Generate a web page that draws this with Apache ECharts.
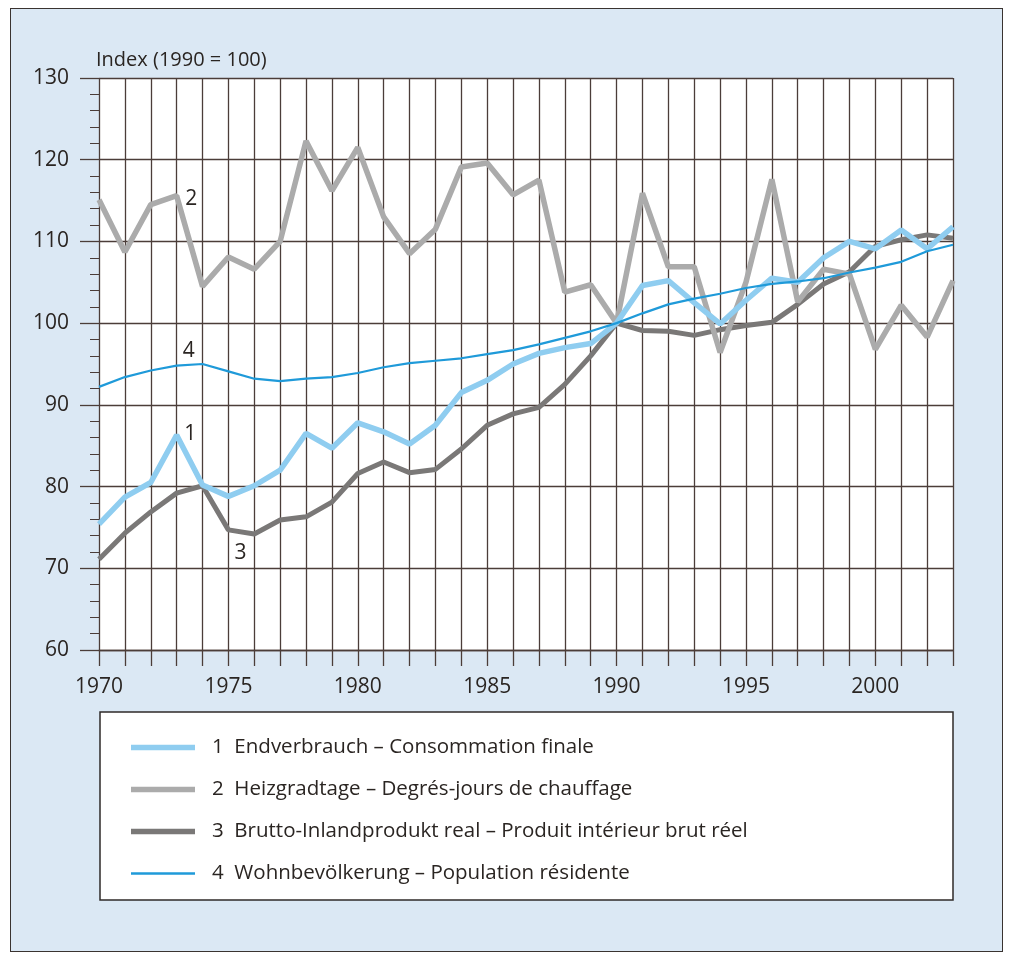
<!DOCTYPE html>
<html>
<head>
<meta charset="utf-8">
<script src="https://cdn.jsdelivr.net/npm/echarts@6/dist/echarts.min.js"></script>
<style>
  html, body { margin: 0; padding: 0; background: #ffffff; }
  #wrap { position: relative; width: 1013px; height: 956px; overflow: hidden; background: #ffffff; }
  #panel { position: absolute; left: 10px; top: 8px; width: 993px; height: 944px; background: #dbe8f4; border: 1.5px solid #3a3330; box-sizing: border-box; }
  #chart { position: absolute; left: 0; top: 0; width: 1013px; height: 956px; }
</style>
</head>
<body>
<div id="wrap">
  <div id="panel"></div>
  <div id="chart"></div>
</div>
<script>
// ---- data ----
const years = ['1970','1971','1972','1973','1974','1975','1976','1977','1978','1979',
  '1980','1981','1982','1983','1984','1985','1986','1987','1988','1989',
  '1990','1991','1992','1993','1994','1995','1996','1997','1998','1999',
  '2000','2001','2002','2003'];

const seriesNames = [
  '1  Endverbrauch – Consommation finale',
  '2  Heizgradtage – Degrés-jours de chauffage',
  '3  Brutto-Inlandprodukt real – Produit intérieur brut réel',
  '4  Wohnbevölkerung – Population résidente'
];

const endverbrauch = [75.4, 78.7, 80.5, 86.3, 80.2, 78.8, 80.1, 82.0, 86.5, 84.7,
  87.8, 86.7, 85.2, 87.5, 91.5, 93.0, 95.0, 96.3, 97.0, 97.5,
  100.0, 104.6, 105.2, 102.5, 99.9, 102.8, 105.5, 105.0, 108.0, 110.0,
  109.1, 111.4, 109.1, 111.8];

const heizgradtage = [115.1, 108.7, 114.5, 115.6, 104.5, 108.1, 106.6, 110.0, 122.3, 116.2,
  121.5, 113.0, 108.5, 111.5, 119.1, 119.6, 115.7, 117.5, 103.8, 104.7,
  100.0, 115.9, 106.9, 106.9, 96.4, 105.0, 117.6, 102.6, 106.6, 106.0,
  96.8, 102.2, 98.3, 105.2];

const bip = [71.1, 74.3, 76.9, 79.2, 80.1, 74.7, 74.2, 75.9, 76.3, 78.1,
  81.6, 83.0, 81.7, 82.1, 84.6, 87.5, 88.9, 89.7, 92.5, 96.0,
  100.0, 99.1, 99.0, 98.5, 99.2, 99.7, 100.1, 102.3, 104.8, 106.3,
  109.4, 110.2, 110.8, 110.4];

const bevoelkerung = [92.2, 93.4, 94.2, 94.8, 95.0, 94.1, 93.2, 92.9, 93.2, 93.4,
  93.9, 94.6, 95.1, 95.4, 95.7, 96.2, 96.7, 97.4, 98.2, 99.0,
  100.0, 101.2, 102.3, 103.0, 103.6, 104.3, 104.8, 105.1, 105.5, 106.2,
  106.8, 107.5, 108.8, 109.6];

const yTickLabels = ['60','70','80','90','100','110','120','130'];
const xTickLabels = ['1970','1975','1980','1985','1990','1995','2000'];

// series tag labels: [label, year index]
const tags = { '1': 3, '2': 3, '3': 5, '4': 3 };

// ---- styles ----
const TXT = '#2a2522';
const GRID = '#4b3d39';
const FONT = '"Open Sans", "Noto Sans", sans-serif';
const THICK_ICON = 'path://M0,0 L64,0 L64,5.5 L0,5.5 Z';
const THIN_ICON = 'path://M0,0 L64,0 L64,2.6 L0,2.6 Z';

function tag(arr, key, pos, offset) {
  const i = tags[key];
  return {
    symbol: 'none',
    silent: true,
    data: [{
      coord: [years[i], arr[i]],
      symbol: 'circle', symbolSize: 1,
      itemStyle: { color: 'transparent' },
      label: { show: true, formatter: key, position: pos, offset: offset,
               color: TXT, fontSize: 21, fontFamily: FONT }
    }]
  };
}

const chart = echarts.init(document.getElementById('chart'), null, { renderer: 'canvas' });

const option = {
  backgroundColor: 'transparent',
  animation: false,
  title: {
    text: 'Index (1990 = 100)',
    left: 91, top: 45,
    textStyle: { color: TXT, fontSize: 20, fontWeight: 'normal', fontFamily: FONT }
  },
  graphic: [{
    type: 'rect', z: 0,
    shape: { x: 100, y: 712, width: 853, height: 188 },
    style: { fill: '#ffffff', stroke: '#2f2a28', lineWidth: 1.5 }
  }],
  legend: {
    orient: 'vertical',
    left: 126, top: 732,
    itemWidth: 64, itemHeight: 20, itemGap: 21,
    symbolKeepAspect: true,
    data: [
      { name: seriesNames[0], icon: THICK_ICON },
      { name: seriesNames[1], icon: THICK_ICON },
      { name: seriesNames[2], icon: THICK_ICON },
      { name: seriesNames[3], icon: THIN_ICON }
    ],
    textStyle: { color: TXT, fontSize: 20.5, fontFamily: FONT, padding: [0, 0, 0, 12] },
    selectedMode: false,
    z: 5
  },
  grid: {
    left: 99, top: 78, right: 60, bottom: 306,
    show: true, backgroundColor: '#ffffff', borderWidth: 0
  },
  xAxis: {
    type: 'category',
    data: years,
    boundaryGap: false,
    axisLine: { show: true, lineStyle: { color: GRID, width: 1.3 } },
    axisTick: { show: true, length: 16, interval: 0, lineStyle: { color: GRID, width: 1.3 } },
    splitLine: { show: true, interval: 0, lineStyle: { color: GRID, width: 1.3 } },
    axisLabel: {
      color: TXT, fontSize: 21, fontFamily: FONT, margin: 27,
      interval: 0,
      formatter: v => xTickLabels.includes(v) ? v : ''
    }
  },
  yAxis: {
    type: 'value',
    min: 60, max: 130, interval: 10,
    axisLine: { show: false },
    axisTick: { show: true, length: 19, lineStyle: { color: GRID, width: 1.3 } },
    minorTick: { show: true, splitNumber: 5, length: 9, lineStyle: { color: GRID, width: 1 } },
    splitLine: { show: true, lineStyle: { color: GRID, width: 1.3 } },
    axisLabel: {
      color: TXT, fontSize: 21, fontFamily: FONT, margin: 30,
      formatter: v => yTickLabels.includes(String(v)) ? String(v) : ''
    }
  },
  series: [
    {
      name: seriesNames[2], type: 'line', symbol: 'none', z: 2,
      data: bip,
      lineStyle: { color: '#7a7877', width: 5 },
      itemStyle: { color: '#7a7877' },
      markPoint: tag(bip, '3', 'bottom', [12, 7])
    },
    {
      name: seriesNames[1], type: 'line', symbol: 'none', z: 3,
      data: heizgradtage,
      lineStyle: { color: '#ababab', width: 5.5 },
      itemStyle: { color: '#ababab' },
      markPoint: tag(heizgradtage, '2', 'right', [3, 3])
    },
    {
      name: seriesNames[0], type: 'line', symbol: 'none', z: 4,
      data: endverbrauch,
      lineStyle: { color: '#8fcdf0', width: 5.5 },
      itemStyle: { color: '#8fcdf0' },
      markPoint: tag(endverbrauch, '1', 'right', [2, -1])
    },
    {
      name: seriesNames[3], type: 'line', symbol: 'none', z: 5,
      data: bevoelkerung,
      lineStyle: { color: '#1f9ad9', width: 2.2 },
      itemStyle: { color: '#1f9ad9' },
      markPoint: tag(bevoelkerung, '4', 'top', [12, 1])
    }
  ]
};

chart.setOption(option);
</script>
</body>
</html>
